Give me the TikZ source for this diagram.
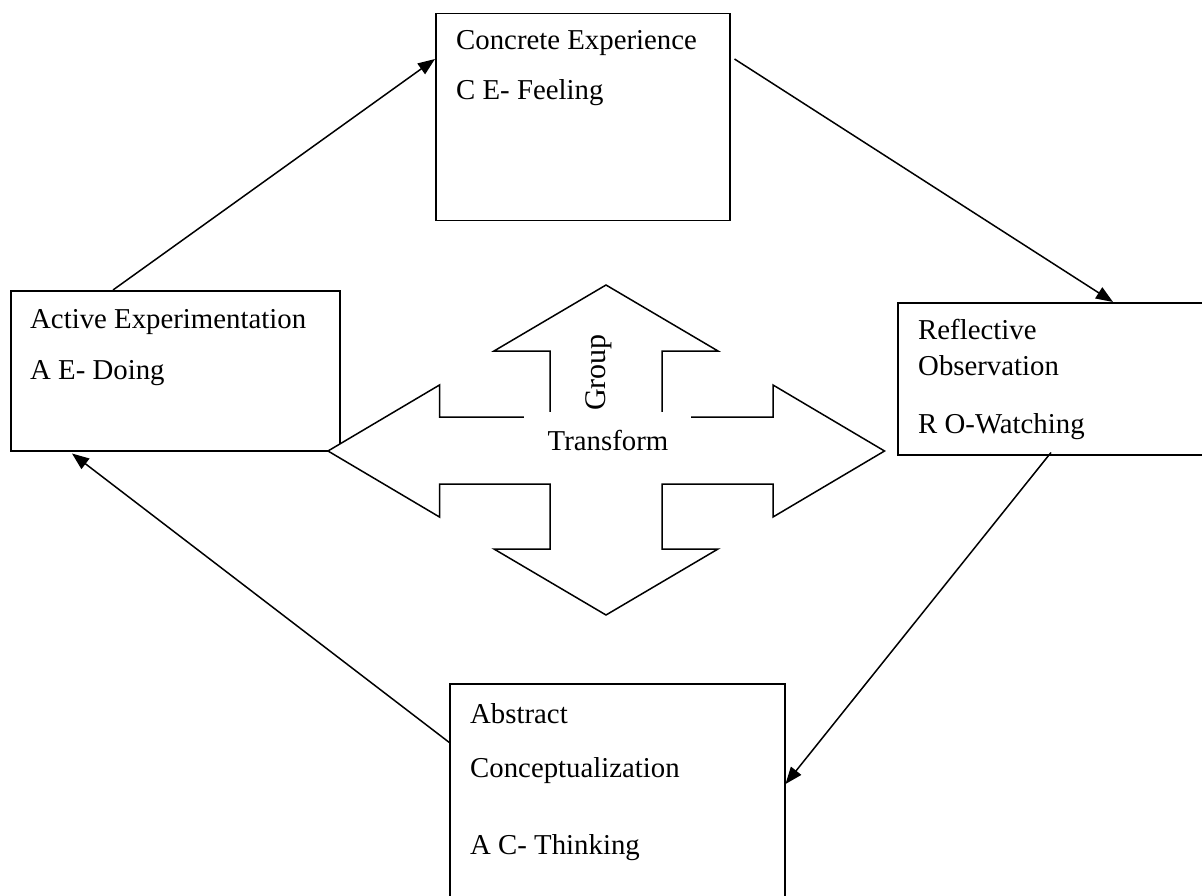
\documentclass[tikz,border=0pt]{standalone}
\usepackage{fontspec}
\setmainfont{Liberation Serif}
\usetikzlibrary{arrows.meta,calc}
\begin{document}
\begin{tikzpicture}[x=1pt,y=-1pt,
  box/.style={draw,line width=1.5pt,fill=white,rectangle,inner sep=0pt,anchor=north west},
  lbl/.style={anchor=base west,inner sep=0pt,font=\fontsize{28.8}{34}\selectfont},
  conn/.style={line width=1.5pt,-{Triangle[length=17pt,width=13pt]}},
  quad/.style={draw,line width=1.5pt,fill=white,line join=miter}]
\useasboundingbox (0,0) rectangle (1202,896);
\clip (0,0) rectangle (1202,896);

% boxes
\node[box,minimum width=294pt,minimum height=207pt] (ce) at (435,13) {};
\node[box,minimum width=329pt,minimum height=160pt] (ae) at (10,290) {};
\node[box,minimum width=330pt,minimum height=152pt] (ro) at (897,302) {};
\node[box,minimum width=335pt,minimum height=240pt] (ac) at (449,683) {};

% connectors
\draw[conn] ($(ae.north west)+(103,0)$) -- ($(ce.north west)+(0,46)$);
\draw[conn] ($(ce.north east)+(4,46)$) -- ($(ro.north west)+(216,0)$);
\draw[conn] ($(ro.south west)+(154,-3)$) -- ($(ac.north east)+(0,101)$);
\draw[conn] ($(ac.north west)+(1,60)$) -- ($(ae.south west)+(62,2)$);

% four-way arrow
\path[quad] (606,285) -- (718,351) -- (662,351) -- (662,417) -- (773,417) -- (773,385)
  -- (884.5,451) -- (773,517) -- (773,484) -- (662,484) -- (662,549) -- (718,549)
  -- (606,615) -- (494,549) -- (550,549) -- (550,484) -- (439.5,484) -- (439.5,517)
  -- (328,451) -- (439.5,385) -- (439.5,417) -- (550,417) -- (550,351) -- (494,351) -- cycle;
\node[fill=white,inner sep=0pt,minimum width=167pt,minimum height=66pt,anchor=north west] (tfbox) at (523.5,411.5) {};
\node[lbl,anchor=base] (tf) at (608,450) {Transform};
\node[rotate=90,anchor=base,inner sep=0pt,font=\fontsize{30}{34}\selectfont] (grp) at (605.7,372.5) {Group};

% texts
\node[lbl] (ce1) at (456,50) {Concrete Experience};
\node[lbl] (ce2) at (456,100) {C E- Feeling};
\node[lbl] (ae1) at (30,328) {Active Experimentation};
\node[lbl] (ae2) at (30,379) {A E- Doing};
\node[lbl] (ro1) at (918,339) {Reflective};
\node[lbl] (ro2) at (918,375) {Observation};
\node[lbl] (ro3) at (918,433) {R O-Watching};
\node[lbl] (ac1) at (470,723) {Abstract};
\node[lbl] (ac2) at (470,777) {Conceptualization};
\node[lbl] (ac3) at (470,854) {A C- Thinking};
\end{tikzpicture}
\end{document}
